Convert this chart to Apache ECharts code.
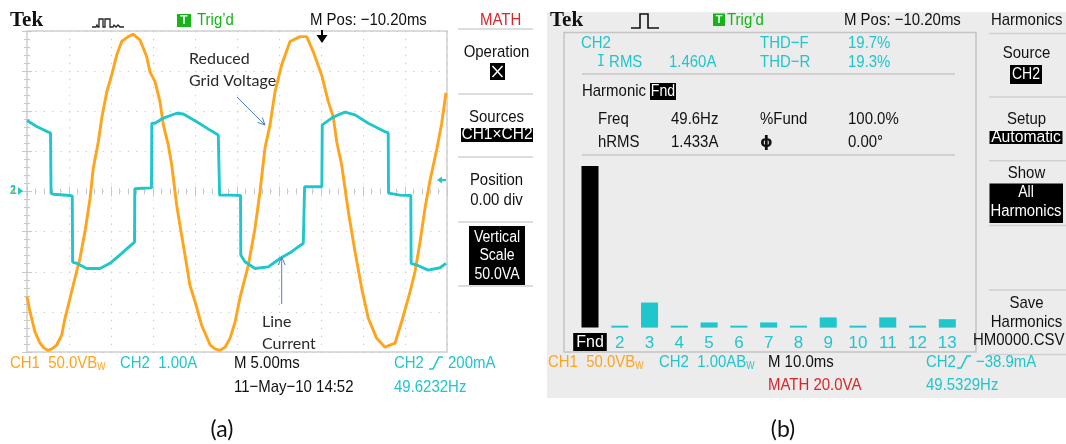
<!DOCTYPE html>
<html>
<head>
<meta charset="utf-8">
<script src="https://cdn.jsdelivr.net/npm/echarts@6/dist/echarts.min.js"></script>
<style>
  html, body { margin: 0; padding: 0; background: #ffffff; }
  #chart { width: 1066px; height: 444px; }
</style>
</head>
<body>
<div id="chart"></div>
<script>
// ---- CH1: reduced grid voltage (time in ms, value in V; 50 V/div, 5 ms/div)
const ch1Time = [0.0, 0.36, 0.95, 1.55, 2.02, 2.54, 2.98, 3.54, 4.13, 4.52, 5.12, 5.71, 6.31, 6.90, 7.50, 7.89,
  8.49, 8.89, 9.49, 10.08, 10.68, 11.27, 12.06, 12.62, 13.45, 14.25, 14.64, 15.24, 15.83, 16.23, 16.82, 17.23,
  17.82, 18.21, 18.81, 19.40, 20.0, 20.80, 21.79, 22.38, 22.98, 23.57, 24.17, 24.76, 25.36, 26.35, 27.14, 27.74,
  28.33, 28.93, 29.52, 30.32, 31.31, 32.5, 33.30, 34.08, 35.08, 35.87, 36.46, 36.87, 37.46, 38.25, 39.05, 39.85,
  40.63, 41.63, 42.62, 43.81, 44.61, 45.60, 46.19, 46.79, 47.38, 47.98, 48.77, 49.37, 49.88];
const ch1Volts = [-131, -150, -175, -189, -195, -198, -196, -191, -179, -158, -133, -108, -83, -50, -9, 29,
  62, 91, 124, 145, 170, 187, 193, 196, 189, 168, 149, 137, 112, 83, 58, 33,
  -17, -42, -79, -117, -137, -167, -191, -196, -198, -194, -183, -163, -132, -92, -46, 0,
  54, 83, 124, 158, 187, 193, 193, 174, 145, 112, 93, 62, 33, -25, -75, -121,
  -158, -183, -194, -189, -162, -125, -100, -63, -21, 14, 52, 85, 123];

// ---- CH2: line current (time in ms, value in A; 1 A/div)
const ch2Time = [0, 1.15, 2.54, 2.80, 2.83, 2.86, 3.13, 5.12, 5.39, 5.43, 5.92, 7.11, 8.69, 9.88, 11.07, 11.87,
  12.80, 12.83, 13.69, 14.82, 14.86, 15.24, 16.23, 17.82, 18.61, 20.20, 21.79, 22.77, 22.89, 22.93, 24.17, 25.42,
  25.45, 25.95, 27.14, 28.73, 30.12, 31.51, 32.89, 33.01, 33.05, 34.05, 35.10, 35.15, 36.27, 37.26, 37.86, 39.05,
  40.63, 42.62, 43.0, 43.04, 44.40, 45.69, 45.73, 46.58, 47.77, 49.17, 49.88];
const ch2Amps = [1.77, 1.62, 1.48, 1.46, 0.79, -0.04, -0.07, -0.10, -0.11, -1.76, -1.79, -1.92, -1.92, -1.79, -1.58, -1.43,
  -1.26, 0.07, 0.08, 0.09, 1.70, 1.70, 1.83, 1.95, 1.93, 1.74, 1.53, 1.41, 1.38, -0.09, -0.09, -0.10,
  -1.58, -1.75, -1.92, -1.88, -1.67, -1.50, -1.29, -1.27, 0.12, 0.12, 0.12, 1.66, 1.83, 1.93, 1.98, 1.91,
  1.70, 1.49, 1.46, -0.04, -0.09, -0.10, -1.79, -1.85, -1.96, -1.90, -1.79];

// ---- Harmonic spectrum of CH2 (% of fundamental)
const harmonicOrders = ['Fnd', '2', '3', '4', '5', '6', '7', '8', '9', '10', '11', '12', '13'];
const harmonicPercent = [100, 1.2, 15.5, 1.2, 3.2, 1.2, 3.2, 1.2, 6.3, 1.2, 6.3, 1.2, 5.2];

// ---- look
// Scope readout font: Liberation Sans squeezed horizontally to a narrow face.
const TEK = "'Liberation Sans',Arial,sans-serif";
const TEK_SQUEEZE = 0.88;
const ANN = "Lato,'Open Sans','Noto Sans',sans-serif";
const LOGO = "'Liberation Serif','DejaVu Serif',serif";
const ORANGE = '#ffa41b';
const CYAN = '#1fc6cc';
const GREEN = '#17b417';
const RED = '#d8262b';
const GRAT = '#c9c9c9';
const BLUE = '#4f81bd';

const zip = (a, b) => a.map((v, i) => [v, b[i]]);

function text(s, x, y, fill, opts) {
  opts = opts || {};
  const size = opts.size || 17;
  const family = opts.family || TEK;
  const sx = opts.scale != null ? opts.scale : (family === TEK ? TEK_SQUEEZE : 1);
  return {
    type: 'text', x: x, y: y, z: opts.z || 60, scaleX: sx,
    style: {
      text: s, fill: fill,
      fontSize: size, fontFamily: family, fontWeight: opts.weight || 'normal',
      textAlign: opts.align || 'left', textVerticalAlign: 'middle',
      align: opts.align || 'left', verticalAlign: 'middle',
      rich: opts.rich
    }
  };
}
function rect(x, y, w, h, fill, opts) {
  opts = opts || {};
  return { type: 'rect', z: opts.z || 55, shape: { x: x, y: y, width: w, height: h },
    style: { fill: fill, stroke: opts.stroke || null, lineWidth: opts.lw || 0 } };
}
function line(x1, y1, x2, y2, stroke, lw, z) {
  return { type: 'line', z: z || 58, shape: { x1: x1, y1: y1, x2: x2, y2: y2 },
    style: { stroke: stroke, lineWidth: lw || 1 } };
}
function poly(points, stroke, lw, z) {
  return { type: 'polyline', z: z || 58, shape: { points: points },
    style: { stroke: stroke, lineWidth: lw || 1, fill: null } };
}
function shape(points, fill, z) {
  return { type: 'polygon', z: z || 58, shape: { points: points }, style: { fill: fill } };
}
// "B" with a subscript "w" (bandwidth-limit flag)
function bwText(s, x, y, fill) {
  return text(s + 'B{w|W}', x, y, fill, {
    rich: { w: { fill: fill, color: fill, fontSize: 10, fontFamily: TEK, padding: [8, 0, 0, 0] } }
  });
}

const graphics = [];

// ======================= left screen =======================
graphics.push(text('Tek', 10, 21, '#111', { family: LOGO, weight: 'bold', size: 21 }));
graphics.push(poly([[92, 27], [96, 27], [97, 25], [98, 27], [99, 27], [99, 19], [103, 19], [103, 27], [105, 27],
  [105, 19], [110, 19], [110, 27], [113, 27], [114, 25], [116, 27], [118, 25], [120, 27], [124, 27]], '#222', 1.3));
graphics.push(rect(177, 14, 14, 13, GREEN));
graphics.push(text('T', 184, 20.5, '#fff', { align: 'center', size: 12, weight: 'bold', scale: 1 }));
graphics.push(text('Trig\u2019d', 197, 20.5, GREEN));
graphics.push(text('M Pos: \u221210.20ms', 310, 20.5, '#111'));
graphics.push(text('MATH', 480, 20.5, RED));

// trigger-position marker at the top of the graticule
graphics.push(line(322, 30, 322, 37, '#000', 2));
graphics.push(shape([[316.5, 35], [327.5, 35], [322, 43]], '#000'));

// channel ground markers (left) and trigger level (right)
graphics.push(text('1', 11, 191, ORANGE, { size: 12, weight: 'bold' }));
graphics.push(text('2', 10, 191, CYAN, { size: 12, weight: 'bold' }));
graphics.push(shape([[18, 187], [23, 191], [18, 195]], CYAN));
graphics.push(shape([[437, 180], [442, 176.5], [442, 183.5]], CYAN));
graphics.push(line(441, 180, 446, 180, CYAN, 2));

// soft-key menu
[29, 94, 157, 222, 286].forEach(y => graphics.push(line(458, y, 533, y, '#d2d2d2', 1.5)));
graphics.push(text('Operation', 496.5, 52, '#111', { align: 'center' }));
graphics.push(rect(490, 63, 15, 17, '#000'));
graphics.push(line(492.5, 66, 502.5, 77, '#fff', 1.5, 59));
graphics.push(line(502.5, 66, 492.5, 77, '#fff', 1.5, 59));
graphics.push(text('Sources', 496.5, 117, '#111', { align: 'center' }));
graphics.push(rect(461, 128, 72, 14, '#000'));
graphics.push(text('CH1\u00D7CH2', 497, 135, '#fff', { align: 'center', size: 16, scale: 0.97 }));
graphics.push(text('Position', 496.5, 180, '#111', { align: 'center' }));
graphics.push(text('0.00 div', 496.5, 200, '#111', { align: 'center' }));
graphics.push(rect(469, 226, 56, 59, '#000'));
graphics.push(text('Vertical', 497, 237.5, '#fff', { align: 'center', size: 16 }));
graphics.push(text('Scale', 497, 256, '#fff', { align: 'center', size: 16 }));
graphics.push(text('50.0VA', 497, 275, '#fff', { align: 'center', size: 16 }));

// readouts under the graticule
graphics.push(bwText('CH1  50.0V', 10, 363, ORANGE));
graphics.push(text('CH2  1.00A', 120, 363, CYAN));
graphics.push(text('M 5.00ms', 234, 363, '#111'));
graphics.push(text('11\u2212May\u221210 14:52', 234, 387, '#111'));
graphics.push(text('CH2', 394, 363, CYAN));
graphics.push(poly([[429, 369], [433, 369], [439, 357], [443, 357]], CYAN, 1.6));
graphics.push(text('200mA', 448, 363, CYAN));
graphics.push(text('49.6232Hz', 394, 387, CYAN));

// call-outs
graphics.push(text('Reduced', 189, 59, '#2a2a2a', { family: ANN, size: 16, z: 70 }));
graphics.push(text('Grid Voltage', 189, 80.5, '#2a2a2a', { family: ANN, size: 16, z: 70 }));
graphics.push(line(237, 97, 265, 125, BLUE, 1, 70));
graphics.push(poly([[257.5, 122.3], [265, 125], [262.3, 117.5]], BLUE, 1, 70));
graphics.push(text('Line', 262, 322, '#2a2a2a', { family: ANN, size: 16, z: 70 }));
graphics.push(text('Current', 262, 344, '#2a2a2a', { family: ANN, size: 16, z: 70 }));
graphics.push(line(281.7, 304, 281.7, 257, BLUE, 1, 70));
graphics.push(poly([[278.2, 265], [281.7, 257], [285.2, 265]], BLUE, 1, 70));

graphics.push(text('(a)', 222, 430, '#111', { family: ANN, size: 23, align: 'center' }));

// ======================= right screen =======================
graphics.push(rect(547, 12, 519, 386, '#ececec', { z: -5 }));
graphics.push({ type: 'rect', z: -4, shape: { x: 564, y: 32.5, width: 412, height: 319.5 },
  style: { fill: null, stroke: '#c4c4c4', lineWidth: 1.5 } });
graphics.push(text('Tek', 550, 21, '#111', { family: LOGO, weight: 'bold', size: 21 }));
graphics.push(poly([[631, 28], [640, 28], [640, 14], [648, 14], [648, 28], [659, 28]], '#111', 1.6));
graphics.push(rect(713, 13.5, 12, 12.5, GREEN));
graphics.push(text('T', 719, 20, '#fff', { align: 'center', size: 11, weight: 'bold', scale: 1 }));
graphics.push(text('Trig\u2019d', 727, 20, GREEN));
graphics.push(text('M Pos: \u221210.20ms', 844, 20, '#111'));
graphics.push(text('Harmonics', 991, 20, '#111'));

// measurement block
graphics.push(text('CH2', 581, 43.6, CYAN));
graphics.push(text('{i|I} RMS', 597, 62, CYAN, { rich: { i: { fontFamily: "'DejaVu Sans Mono',monospace", fontSize: 15, color: CYAN, fill: CYAN } } }));
graphics.push(text('1.460A', 669, 62, CYAN));
graphics.push(text('THD\u2212F', 760, 43.6, CYAN));
graphics.push(text('THD\u2212R', 760, 62, CYAN));
graphics.push(text('19.7%', 848, 43.6, CYAN));
graphics.push(text('19.3%', 848, 62, CYAN));
graphics.push(line(582, 74, 955, 74, '#c8c8c8', 1.5));
graphics.push(text('Harmonic', 582, 91, '#111'));
graphics.push(rect(650, 83, 26, 17, '#000'));
graphics.push(text('Fnd', 663, 91.5, '#fff', { align: 'center', size: 16 }));
graphics.push(text('Freq', 598, 119, '#111'));
graphics.push(text('49.6Hz', 671, 119, '#111'));
graphics.push(text('%Fund', 760, 119, '#111'));
graphics.push(text('100.0%', 848, 119, '#111'));
graphics.push(text('hRMS', 598, 142.6, '#111'));
graphics.push(text('1.433A', 671, 142.6, '#111'));
graphics.push(text('\u03D5', 760, 142.6, '#111', { family: "'DejaVu Sans',sans-serif", size: 16, weight: 'bold' }));
graphics.push(text('0.00\u00B0', 848, 142.6, '#111'));
graphics.push(line(582, 155, 955, 155, '#c8c8c8', 1.5));

// soft-key menu
[33.6, 97, 160.7, 225.5, 290, 354.4].forEach(y => graphics.push(line(989, y, 1066, y, '#d0d0d0', 1.5)));
graphics.push(text('Source', 1026.5, 53.7, '#111', { align: 'center' }));
graphics.push(rect(1010, 65, 32, 19, '#000'));
graphics.push(text('CH2', 1026, 74.5, '#fff', { align: 'center', size: 16 }));
graphics.push(text('Setup', 1026.5, 119, '#111', { align: 'center' }));
graphics.push(rect(989.5, 131, 73, 13, '#000'));
graphics.push(text('Automatic', 1026, 137.5, '#fff', { align: 'center', size: 16, scale: 0.98 }));
graphics.push(text('Show', 1026.5, 173.5, '#111', { align: 'center' }));
graphics.push(rect(989.5, 183.5, 73.5, 39.5, '#000'));
graphics.push(text('All', 1026, 193, '#fff', { align: 'center', size: 16 }));
graphics.push(text('Harmonics', 1026, 212, '#fff', { align: 'center', size: 16, scale: 0.93 }));
graphics.push(text('Save', 1026.5, 303.4, '#111', { align: 'center' }));
graphics.push(text('Harmonics', 1026.5, 322, '#111', { align: 'center' }));
graphics.push(text('HM0000.CSV', 973, 340, '#111'));

// readouts
graphics.push(bwText('CH1  50.0V', 548, 362, ORANGE));
graphics.push(bwText('CH2  1.00A', 659, 362, CYAN));
graphics.push(text('M 10.0ms', 768, 362, '#111'));
graphics.push(text('MATH 20.0VA', 768, 385.6, RED));
graphics.push(text('CH2', 926, 362, CYAN));
graphics.push(poly([[957, 368], [961, 368], [967, 356], [971, 356]], CYAN, 1.6));
graphics.push(text('\u221238.9mA', 976, 362, CYAN));
graphics.push(text('49.5329Hz', 926, 385.6, CYAN));

graphics.push(text('(b)', 783, 430, '#111', { family: ANN, size: 23, align: 'center' }));

// ======================= chart =======================
const chart = echarts.init(document.getElementById('chart'), null, { renderer: 'canvas' });

const tickStyle = { color: GRAT, width: 1 };
const option = {
  animation: false,
  backgroundColor: '#ffffff',
  grid: [
    { left: 27, top: 31, width: 420, height: 321, show: true, borderColor: '#cfcfcf', borderWidth: 1.5,
      backgroundColor: 'transparent' },
    { left: 575.1, top: 166.1, width: 387.1, height: 161.5 }
  ],
  xAxis: [
    { gridIndex: 0, type: 'value', min: 0, max: 50, interval: 5, position: 'bottom',
      axisLine: { show: false }, axisLabel: { show: false },
      axisTick: { show: true, inside: true, length: 5, lineStyle: tickStyle },
      minorTick: { show: true, splitNumber: 5, length: 3, lineStyle: tickStyle },
      splitLine: { show: true, lineStyle: { color: GRAT, width: 1.1, type: [1.2, 6.82] } } },
    { gridIndex: 0, type: 'value', min: 0, max: 50, interval: 5, position: 'top',
      axisLine: { show: false }, axisLabel: { show: false },
      axisTick: { show: true, inside: true, length: 5, lineStyle: tickStyle },
      minorTick: { show: true, splitNumber: 5, length: 3, lineStyle: tickStyle },
      splitLine: { show: false } },
    { gridIndex: 1, type: 'category', data: harmonicOrders,
      axisLine: { show: false }, axisTick: { show: false },
      axisLabel: {
        interval: 0, margin: 6,
        formatter: (v, i) => i === 0 ? '{fnd|' + v + '}' : '{n|' + v + '}',
        rich: {
          fnd: { color: '#fff', backgroundColor: '#000', padding: [1, 3, 1, 3], fontSize: 16, fontFamily: TEK, lineHeight: 17 },
          n: { color: CYAN, fontSize: 17, fontFamily: TEK, lineHeight: 19 }
        }
      } }
  ],
  yAxis: [
    { gridIndex: 0, type: 'value', min: -200, max: 200, interval: 50, position: 'left',
      axisLine: { show: false }, axisLabel: { show: false },
      axisTick: { show: true, inside: true, length: 5, lineStyle: tickStyle },
      minorTick: { show: true, splitNumber: 5, length: 3, lineStyle: tickStyle },
      splitLine: { show: true, lineStyle: { color: GRAT, width: 1.1, type: [1.2, 7.2] } } },
    { gridIndex: 0, type: 'value', min: -4, max: 4, interval: 1, position: 'right',
      axisLine: { show: false }, axisLabel: { show: false },
      axisTick: { show: true, inside: true, length: 5, lineStyle: tickStyle },
      minorTick: { show: true, splitNumber: 5, length: 3, lineStyle: tickStyle },
      splitLine: { show: false } },
    { gridIndex: 1, type: 'value', min: 0, max: 100, show: false }
  ],
  series: [
    { name: 'CH1', type: 'line', xAxisIndex: 0, yAxisIndex: 0, data: zip(ch1Time, ch1Volts),
      symbol: 'none', smooth: false, z: 3,
      lineStyle: { color: ORANGE, width: 2.9 } },
    { name: 'CH2', type: 'line', xAxisIndex: 0, yAxisIndex: 1, data: zip(ch2Time, ch2Amps),
      symbol: 'none', smooth: false, z: 4,
      lineStyle: { color: CYAN, width: 2.9 } },
    { name: 'Harmonics', type: 'bar', xAxisIndex: 2, yAxisIndex: 2, barWidth: 17, z: 3,
      data: harmonicPercent.map((v, i) => ({ value: v, itemStyle: { color: i === 0 ? '#000000' : CYAN } })) }
  ],
  graphic: graphics
};
chart.setOption(option);
</script>
</body>
</html>
